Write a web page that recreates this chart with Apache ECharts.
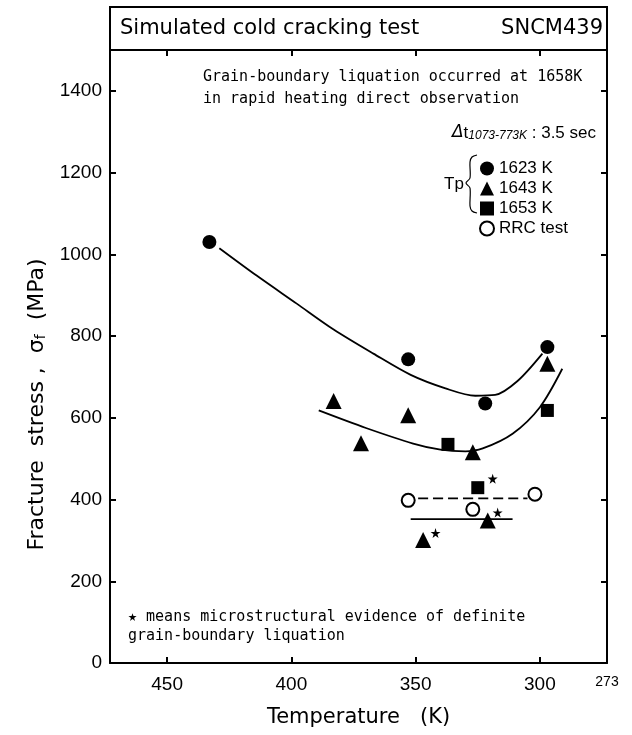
<!DOCTYPE html>
<html>
<head>
<meta charset="utf-8">
<script src="https://cdn.jsdelivr.net/npm/echarts@6/dist/echarts.min.js"></script>
<style>
  html, body { margin: 0; padding: 0; background: #fff; }
  #chart { width: 632px; height: 735px; }
</style>
</head>
<body>
<div id="chart"></div>
<script>
// Temperature axis (K), drawn hot-to-cold (inverted)
const xTicks = [450, 400, 350, 300];
const xLabels = [450, 400, 350, 300, 273];
const yTicks = [0, 200, 400, 600, 800, 1000, 1200, 1400];

// measured points [T (K), fracture stress (MPa)]
const tp1623 = [[433, 1030], [353, 743], [322, 635], [297, 773]];
const tp1643 = [[383, 641], [353, 606], [372, 538], [327, 516], [297, 732], [321, 349], [347, 301]];
const tp1653 = [[337, 535], [297, 618], [325, 429]];
const rrcTest = [[353, 398], [327, 376], [302, 413]];
const starMarks = [[319, 451], [317, 368], [342, 318]];

// hand-drawn trend curves
const curve1623 = [[429, 1015], [414, 948], [398, 880], [383, 816], [367, 757], [352, 705], [338, 672], [326, 654], [318, 656], [309, 690], [299, 757]];
const curve1643 = [[389, 618], [370, 575], [351, 537], [340, 522], [330, 518], [323, 525], [311, 561], [300, 626], [291, 720]];
const rrcLine = [[349, 403], [305, 403]];
const lowLine = [[352, 352], [311, 352]];

const numFont = 'Liberation Sans';
const starPath = 'path://M50,0 L61,35 L98,35 L68,57 L79,91 L50,70 L21,91 L32,57 L2,35 L39,35 Z';

const chart = echarts.init(document.getElementById('chart'));

const xBase = {
    type: 'value',
    inverse: true,
    min: 273,
    max: 473,
    splitLine: { show: false },
    axisLine: { onZero: false, lineStyle: { color: '#000', width: 2 } },
    axisTick: { inside: true, length: 6, customValues: xTicks, lineStyle: { color: '#000', width: 2 } }
};
const yBase = {
    type: 'value',
    min: 0,
    max: 1500,
    splitLine: { show: false },
    axisLine: { onZero: false, lineStyle: { color: '#000', width: 2 } },
    axisTick: { inside: true, length: 6, customValues: yTicks, lineStyle: { color: '#000', width: 2 } }
};

function curve(data, dashed) {
    return {
        type: 'line',
        data: data,
        smooth: 0.3,
        showSymbol: false,
        symbol: 'none',
        silent: true,
        lineStyle: { color: '#000', width: 1.8, type: dashed ? [10, 5] : 'solid' },
        z: 1
    };
}

function points(name, symbol, size, data) {
    return {
        name: name,
        type: 'scatter',
        symbol: symbol,
        symbolSize: size,
        data: data,
        itemStyle: { color: '#000', opacity: 1 },
        z: 3
    };
}

const option = {
    animation: false,
    backgroundColor: '#fff',
    grid: { left: 110, right: 25, top: 50, bottom: 72 },
    xAxis: [
        Object.assign({}, xBase, {
            position: 'bottom',
            name: 'Temperature   (K)',
            nameLocation: 'middle',
            nameGap: 44,
            nameTextStyle: { fontFamily: 'DejaVu Sans', fontSize: 21, color: '#000' },
            axisLabel: {
                customValues: xLabels,
                color: '#000',
                fontFamily: numFont,
                fontSize: 19,
                margin: 12,
                formatter: function (v) { return v === 273 ? '{s|273}' : String(v); },
                rich: { s: { fontFamily: numFont, fontSize: 14, color: '#000', padding: [0, 0, 12, 0] } }
            }
        }),
        Object.assign({}, xBase, { position: 'top', axisLabel: { show: false } })
    ],
    yAxis: [
        Object.assign({}, yBase, {
            position: 'left',
            name: '{a|Fracture  stress ,  σ}{b|f}{a|  (MPa)}',
            nameLocation: 'middle',
            nameGap: 55,
            nameTextStyle: {
                padding: [0, 96, 0, 0],
                rich: {
                    a: { fontFamily: 'DejaVu Sans', fontSize: 22, color: '#000' },
                    b: { fontFamily: 'DejaVu Sans', fontSize: 14, color: '#000', padding: [9, 0, 0, 0] }
                }
            },
            axisLabel: {
                customValues: yTicks,
                color: '#000',
                fontFamily: numFont,
                fontSize: 19,
                margin: 8,
                formatter: function (v) { return String(v); }
            }
        }),
        Object.assign({}, yBase, { position: 'right', axisLabel: { show: false } })
    ],
    legend: {
        orient: 'vertical',
        left: 474,
        top: 155,
        itemGap: 3,
        itemWidth: 14,
        itemHeight: 14,
        textStyle: { fontFamily: numFont, fontSize: 17, color: '#000' },
        data: [
            { name: '1623 K', icon: 'circle' },
            { name: '1643 K', icon: 'triangle' },
            { name: '1653 K', icon: 'rect' },
            { name: 'RRC test', icon: 'emptyCircle' }
        ]
    },
    graphic: [
        { type: 'rect', shape: { x: 110, y: 7, width: 497, height: 43 }, style: { fill: 'none', stroke: '#000', lineWidth: 2 } },
        { type: 'text', x: 120, y: 29, style: { text: 'Simulated cold cracking test', font: '21px "DejaVu Sans"', fill: '#000', verticalAlign: 'middle' } },
        { type: 'text', x: 603, y: 29, style: { text: 'SNCM439', font: '21px "DejaVu Sans"', fill: '#000', align: 'right', verticalAlign: 'middle' } },
        { type: 'text', x: 203, y: 77, style: { text: 'Grain-boundary liquation occurred at 1658K', font: '15px "DejaVu Sans Mono"', fill: '#000', verticalAlign: 'middle' } },
        { type: 'text', x: 203, y: 99, style: { text: 'in rapid heating direct observation', font: '15px "DejaVu Sans Mono"', fill: '#000', verticalAlign: 'middle' } },
        {
            type: 'text', x: 596, y: 133,
            style: {
                text: '{d|Δ}{t|t}{sub|1073-773K}{n| : 3.5 sec}',
                align: 'right', verticalAlign: 'middle',
                rich: {
                    d: { font: 'italic 17px "DejaVu Sans"', fill: '#000' },
                    t: { font: '17px "Liberation Sans"', fill: '#000' },
                    sub: { font: 'italic 12px "Liberation Sans"', fill: '#000', padding: [6, 0, 0, 0] },
                    n: { font: '17px "Liberation Sans"', fill: '#000' }
                }
            }
        },
        { type: 'text', x: 444, y: 184, style: { text: 'Tp', font: '17px "Liberation Sans"', fill: '#000', verticalAlign: 'middle' } },
        {
            type: 'polyline',
            shape: {
                points: [[477, 155], [472, 157], [470, 162], [470, 178], [466, 183], [470, 188], [470, 206], [472, 211], [477, 213]],
                smooth: 0.3
            },
            style: { fill: 'none', stroke: '#000', lineWidth: 1.2 }
        },
        { type: 'text', x: 128, y: 617, style: { text: '★ means microstructural evidence of definite', font: '15px "DejaVu Sans Mono"', fill: '#000', verticalAlign: 'middle' } },
        { type: 'text', x: 128, y: 636, style: { text: 'grain-boundary liquation', font: '15px "DejaVu Sans Mono"', fill: '#000', verticalAlign: 'middle' } }
    ],
    series: [
        curve(curve1623, false),
        curve(curve1643, false),
        curve(rrcLine, true),
        curve(lowLine, false),
        points('1623 K', 'circle', 14, tp1623),
        points('1643 K', 'triangle', 16, tp1643),
        points('1653 K', 'rect', 13, tp1653),
        {
            name: 'RRC test', type: 'scatter', symbol: 'emptyCircle', symbolSize: 13, data: rrcTest,
            itemStyle: { color: '#000', borderColor: '#000', borderWidth: 1.5, opacity: 1 }, z: 3
        },
        points('star', starPath, 10, starMarks)
    ]
};

chart.setOption(option);
</script>
</body>
</html>
